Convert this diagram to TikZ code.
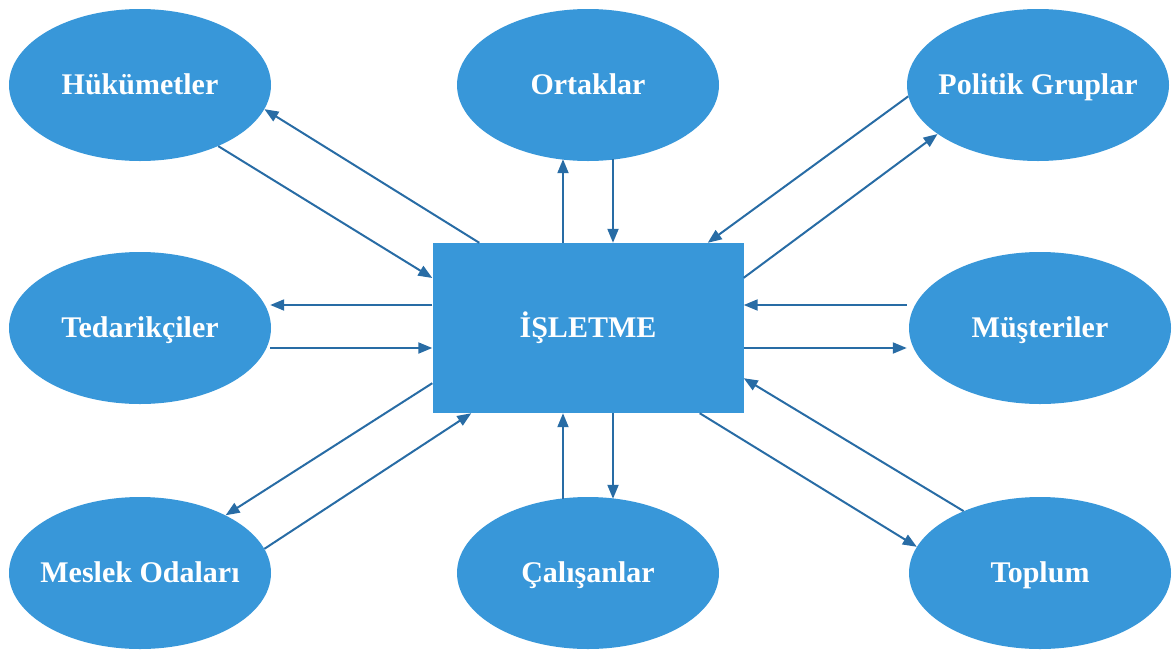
\documentclass[tikz,border=0pt]{standalone}
\usepackage{fontspec}
\setmainfont{Liberation Serif}
\usepackage{xcolor}
\usetikzlibrary{calc,arrows.meta,shapes.geometric}
\definecolor{boxblue}{RGB}{56,151,217}
\definecolor{arrblue}{RGB}{40,108,165}
\newcommand{\plabel}[1]{\makebox[0pt]{#1}}

\begin{document}
\begin{tikzpicture}[x=1pt,y=-1pt,
        party/.style={ellipse,fill=boxblue,minimum width=262pt,minimum height=152pt,inner sep=0pt,
            text height=19pt,text depth=0pt,
            text=white,font=\bfseries\fontsize{30}{34}\selectfont},
        firm/.style={rectangle,fill=boxblue,minimum width=311pt,minimum height=170pt,inner sep=0pt,
            text height=19pt,text depth=0pt,
            text=white,font=\bfseries\fontsize{30}{34}\selectfont},
        link/.style={draw=arrblue,line width=2pt,-{Triangle[length=14pt,width=11pt]}}]
        \useasboundingbox (0,0) rectangle (1173,651);

        \node[firm] (isl) at (588,328) {\plabel{İŞLETME}};

        \node[party] (huk) at (140,85) {\plabel{Hükümetler}};
        \node[party] (ort) at (588,85) {\plabel{Ortaklar}};
        \node[party] (pol) at (1038,85) {\plabel{Politik Gruplar}};
        \node[party] (ted) at (140,328) {\plabel{Tedarikçiler}};
        \node[party] (mus) at (1040,328) {\plabel{Müşteriler}};
        \node[party] (mes) at (140,573) {\plabel{Meslek Odaları}};
        \node[party] (cal) at (588,573) {\plabel{Çalışanlar}};
        \node[party] (top) at (1040,573) {\plabel{Toplum}};

        % top row
        \draw[link] (huk.-38) -- ($(isl.west)+(0,-50)$);
        \draw[link] ($(isl.north west)+(47,0)$) -- (huk.-11);
        \draw[link] ($(isl.north)+(-25,0)$) -- ($(ort.south)+(-25,-2)$);
        \draw[link] ($(ort.south)+(25,-2)$) -- ($(isl.north)+(25,0)$);
        \draw[link] (pol.185) -- ($(isl.north east)+(-36,0)$);
        \draw[link] ($(isl.north east)+(0,35)$) -- (pol.206);

        % middle row
        \draw[link] ($(isl.west)+(0,-23)$) -- ($(ted.east)+(-1,-23)$);
        \draw[link] ($(ted.east)+(-1,20)$) -- ($(isl.west)+(0,20)$);
        \draw[link] ($(mus.west)+(-2,-23)$) -- ($(isl.east)+(0,-23)$);
        \draw[link] ($(isl.east)+(0,20)$) -- ($(mus.west)+(-2,20)$);

        % bottom row
        \draw[link] ($(isl.south west)+(0,-30)$) -- (mes.34);
        \draw[link] (mes.11) -- ($(isl.south west)+(39,0)$);
        \draw[link] ($(cal.north)+(-25,2)$) -- ($(isl.south)+(-25,0)$);
        \draw[link] ($(isl.south)+(25,0)$) -- ($(cal.north)+(25,2)$);
        \draw[link] ($(isl.south east)+(-44,0)$) -- (top.168);
        \draw[link] (top.141) -- ($(isl.south east)+(0,-35)$);
    \end{tikzpicture}
\end{document}
